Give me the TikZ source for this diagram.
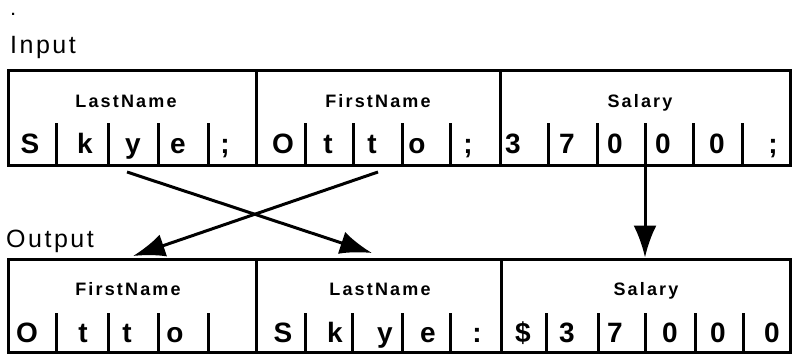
\documentclass[tikz,border=0pt]{standalone}
\usepackage{fontspec}
\setmainfont{Liberation Sans}
\usetikzlibrary{arrows.meta}

\tikzset{
  field/.style={draw, line width=3pt, minimum height=95pt, inner sep=0pt},
  head/.style={anchor=base, font=\fontsize{18}{18}\selectfont\bfseries\addfontfeatures{LetterSpace=12}},
  char/.style={anchor=base, font=\fontsize{28}{28}\selectfont\bfseries},
  title/.style={anchor=base west, inner sep=0pt, font=\fontsize{25}{25}\selectfont\addfontfeatures{LetterSpace=10}},
  tick/.style={line width=3pt},
  move/.style={line width=3pt, -{Latex[length=32pt,width=23pt]}}
}

\begin{document}
\begin{tikzpicture}[x=1pt, y=-1pt]
\useasboundingbox (0,0) rectangle (795,356);

% Titles
\node[title, font=\fontsize{15}{15}\selectfont\bfseries] (dot) at (11,15) {.};
\node[title] (input) at (10,53) {Input};
\node[title] (output) at (6,247) {Output};

% Input record
\node[field, minimum width=248pt] (inLast) at (132,118) {};
\node[field, minimum width=244pt] (inFirst) at (378,118) {};
\node[field, minimum width=290pt] (inSalary) at (645,118) {};

\node[head] (inLastH) at (126,107) {LastName};
\node[head] (inFirstH) at (378,107) {FirstName};
\node[head] (inSalaryH) at (640,107) {Salary};

\foreach \x in {56,108,158,208,305,353,402,450,548,597,645,693,742}
  \draw[tick] (\x,123) -- (\x,166);

\foreach \x/\c [count=\i] in {30/S,85/k,133/y,178/e,225/;,283/O,328/t,372/t,417/o,468/;,
                             513/3,567/7,615/0,663/0,717/0,773/;}
  \node[char] (in\i) at (\x,153) {\c};

% Output record
\node[field, minimum width=248pt, minimum height=93pt] (outFirst) at (132,305.5) {};
\node[field, minimum width=245pt, minimum height=93pt] (outLast) at (378.5,305.5) {};
\node[field, minimum width=289pt, minimum height=93pt] (outSalary) at (645.5,305.5) {};

\node[head] (outFirstH) at (128,295) {FirstName};
\node[head] (outLastH) at (380,295) {LastName};
\node[head] (outSalaryH) at (646,295) {Salary};

\foreach \x in {56,108,158,208,305,352,402,450,546,598,645,695,743}
  \draw[tick] (\x,313) -- (\x,352);

\foreach \x/\c [count=\i] in {27/O,83/t,127/t,175/o,283/S,335/k,385/y,428/e,477/:,
                             523/\$,567/3,615/7,670/0,718/0,772/0}
  \node[char] (out\i) at (\x,342) {\c};

% Moves
\coordinate (fromLast) at (127,172);
\coordinate (toLast) at (372,253);
\coordinate (fromFirst) at (378,172);
\coordinate (toFirst) at (133,256);

\draw[move] (fromLast) -- (toLast);
\draw[move] (fromFirst) -- (toFirst);
\draw[move] (inSalary.south -| 645,0) -- (outSalary.north -| 645,0);

\end{tikzpicture}
\end{document}
